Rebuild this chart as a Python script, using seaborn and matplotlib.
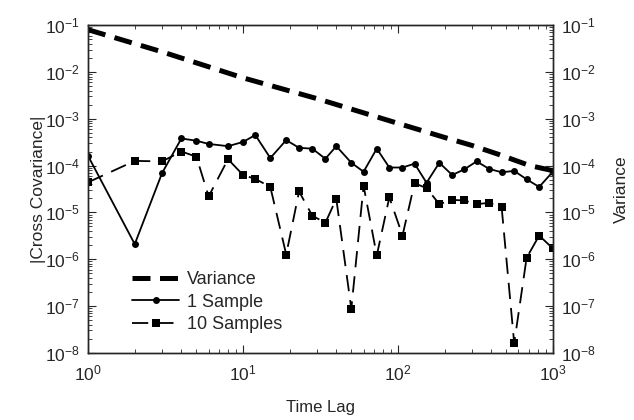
import numpy as np
import pandas as pd
import matplotlib
matplotlib.use("Agg")
import matplotlib.pyplot as plt
import seaborn as sns

# Dados
lag_var = [1, 3, 10, 30, 100, 200, 300, 455, 710, 1000]
variance = [0.08, 0.027, 0.0075, 0.0027, 0.0008, 0.0004, 0.00027, 0.00017, 0.0001, 0.000078]

lag = [1, 2, 3, 4, 5, 6, 8, 10, 12, 15, 19, 23, 28, 34, 40, 50, 60, 73, 88, 107,
       128, 153, 185, 224, 268, 322, 388, 467, 563, 677, 816, 1000]

one_sample = [1.6e-4, 2.1e-6, 6.9e-5, 3.8e-4, 3.4e-4, 2.9e-4, 2.6e-4, 3.2e-4, 4.5e-4,
              1.45e-4, 3.5e-4, 2.4e-4, 2.3e-4, 1.4e-4, 2.6e-4, 1.15e-4, 7.4e-5, 2.3e-4,
              9.1e-5, 9.1e-5, 1.1e-4, 4.3e-5, 1.15e-4, 6.3e-5, 8.3e-5, 1.23e-4, 8.5e-5,
              7.2e-5, 7.7e-5, 5.1e-5, 3.5e-5, 7.4e-5]

ten_samples = [4.4e-5, 1.26e-4, 1.23e-4, 2.0e-4, 1.55e-4, 2.2e-5, 1.37e-4, 6.3e-5, 5.2e-5,
               3.5e-5, 1.26e-6, 2.8e-5, 8.5e-6, 6.0e-6, 1.95e-5, 8.7e-8, 3.7e-5, 1.2e-6,
               2.1e-5, 3.2e-6, 4.2e-5, 3.3e-5, 1.5e-5, 1.85e-5, 1.8e-5, 1.5e-5, 1.6e-5,
               1.3e-5, 1.6e-8, 1.07e-6, 3.2e-6, 1.7e-6]

# Estilo
sns.set_style("ticks")
plt.rcParams["font.family"] = ["Liberation Sans", "DejaVu Sans"]
plt.rcParams["mathtext.default"] = "regular"
plt.rcParams["axes.linewidth"] = 1.0

fig = plt.figure(figsize=(6.34, 4.2), dpi=100)
ax = fig.add_axes([0.139, 0.160, 0.733, 0.780])
ax2 = ax.twinx()

# Linhas
sns.lineplot(x=lag_var, y=variance, ax=ax2, color="black", lw=3.6,
             linestyle=(0, (3.6, 1.9)), label="Variance", legend=False)
sns.lineplot(x=lag, y=one_sample, ax=ax, color="black", lw=1.3, marker="o",
             markersize=5, markeredgewidth=0, linestyle="-", label="1 Sample",
             legend=False)
sns.lineplot(x=lag, y=ten_samples, ax=ax, color="black", lw=1.3, marker="s",
             markersize=6, markeredgewidth=0, linestyle=(0, (9, 5)),
             label="10 Samples", legend=False)

# Escalas
for a in (ax, ax2):
    a.set_xscale("log")
    a.set_yscale("log")
    a.set_xlim(1, 1000)
    a.set_ylim(1e-8, 1e-1)
    a.tick_params(which="both", direction="in", labelsize=12.5, pad=6)
    a.tick_params(which="major", length=6)
    a.tick_params(which="minor", length=3)

ax.tick_params(axis="x", which="both", pad=8)
ax.tick_params(which="both", top=True, right=False)
ax2.tick_params(which="both", left=False, right=True)
ax.set_yticks([10.0 ** k for k in range(-8, 0)])
ax2.set_yticks([10.0 ** k for k in range(-8, 0)])
ax.set_xticks([1, 10, 100, 1000])

for s in ax.spines.values():
    s.set_visible(True)
for s in ax2.spines.values():
    s.set_visible(True)

# Labels
ax.set_xlabel("Time Lag", fontsize=12, labelpad=12)
ax.set_ylabel("|Cross Covariance|", fontsize=12.5, labelpad=-1)
ax2.set_ylabel("Variance", fontsize=12.5, labelpad=13)

# Legenda
h1, l1 = ax2.get_legend_handles_labels()
h2, l2 = ax.get_legend_handles_labels()
ax2.legend(h1 + h2, l1 + l2, loc="lower left", bbox_to_anchor=(0.072, 0.027),
           frameon=False, fontsize=13, handlelength=2.6, handletextpad=0.4,
           labelspacing=0.3, borderaxespad=0.2)

fig.savefig("out.png", dpi=100)
